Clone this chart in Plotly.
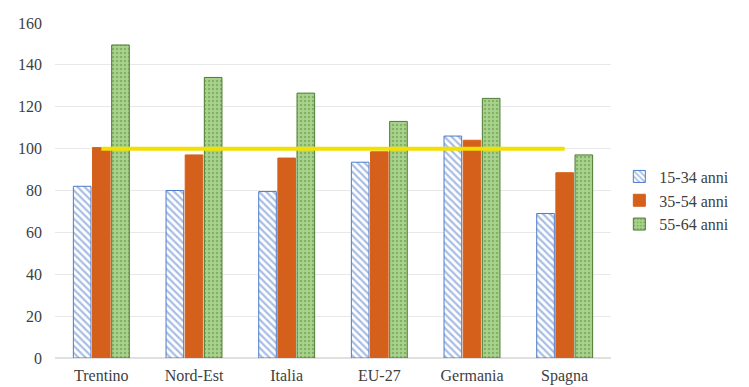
import plotly.graph_objects as go

categories = ["Trentino", "Nord-Est", "Italia", "EU-27", "Germania", "Spagna"]
s15_34 = [82, 80, 79.5, 93.5, 106, 69]
s35_54 = [100.5, 97, 95.5, 98.5, 104, 88.5]
s55_64 = [149.5, 134, 126.5, 113, 124, 97]
ref_line = [100, 100, 100, 100, 100, 100]
series_names = ["15-34 anni", "35-54 anni", "55-64 anni"]
y_ticks = [0, 20, 40, 60, 80, 100, 120, 140, 160]

font_family = "Liberation Serif, Times New Roman, serif"

fig = go.Figure()
fig.add_trace(go.Bar(
    x=categories, y=s15_34, name=series_names[0],
    marker=dict(color="white", line=dict(color="#4f7bc8", width=1),
                pattern=dict(shape="\\", fgcolor="#4f7bc8", bgcolor="white", size=5, solidity=0.45)),
))
fig.add_trace(go.Bar(
    x=categories, y=s35_54, name=series_names[1],
    marker=dict(color="#d4601c", line=dict(color="#d4601c", width=1)),
))
fig.add_trace(go.Bar(
    x=categories, y=s55_64, name=series_names[2],
    marker=dict(color="#a8d38c", line=dict(color="#4f7a35", width=1),
                pattern=dict(shape=".", fgcolor="#5d8a42", bgcolor="#a8d38c", size=4, solidity=0.3)),
))
fig.add_trace(go.Scatter(
    x=categories, y=ref_line, mode="lines",
    line=dict(color="#f3df00", width=4), showlegend=False, hoverinfo="skip",
))

fig.update_layout(
    width=749, height=387,
    margin=dict(l=55, r=138, t=23, b=29),
    paper_bgcolor="white", plot_bgcolor="white",
    barmode="group", bargap=0.38, bargroupgap=0.08,
    font=dict(family=font_family, size=16, color="#404040"),
    legend=dict(x=1.015, y=0.47, xanchor="left", yanchor="middle",
                font=dict(family=font_family, size=16, color="#404040"),
                itemwidth=30, tracegroupgap=2, bgcolor="rgba(0,0,0,0)"),
    xaxis=dict(showgrid=False, showline=False, ticks="", automargin=False,
               tickfont=dict(family=font_family, size=16), ticklabelstandoff=6),
    yaxis=dict(range=[0, 160], tickvals=y_ticks, showgrid=True, gridcolor="#e8e8e8",
               gridwidth=1, zeroline=True, zerolinecolor="#e0e0e0", showline=False,
               automargin=False, ticks="", tickfont=dict(family=font_family, size=16),
               ticklabelstandoff=12),
)

fig.write_html("out.html")
